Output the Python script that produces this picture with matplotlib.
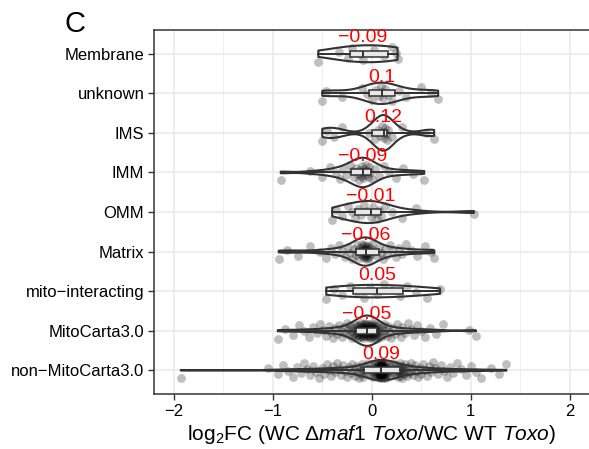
import numpy as np
import matplotlib
matplotlib.use("Agg")
import matplotlib.pyplot as plt

plt.rcParams['font.family'] = ['Liberation Sans', 'DejaVu Sans']
plt.rcParams['mathtext.fontset'] = 'custom'
plt.rcParams['mathtext.rm'] = 'Liberation Sans'
plt.rcParams['mathtext.it'] = 'Liberation Sans:italic'

# categories, bottom to top
categories = ['non\u2212MitoCarta3.0', 'MitoCarta3.0', 'mito\u2212interacting', 'Matrix',
              'OMM', 'IMM', 'IMS', 'unknown', 'Membrane']
med_labels = ['0.09', '\u22120.05', '0.05', '\u22120.06', '\u22120.01', '\u22120.09',
              '0.12', '0.1', '\u22120.09']

# log2FC values per group
membrane = [-0.54, -0.33, -0.24, -0.2, -0.12, -0.09, 0.02, 0.12, 0.2, 0.24, 0.26]
unknown = [-0.5, -0.46, -0.3, -0.1, -0.05, 0.0, 0.04, 0.07, 0.09, 0.1, 0.11, 0.13,
           0.16, 0.2, 0.27, 0.35, 0.5, 0.6, 0.67]
ims = [-0.5, -0.45, -0.38, -0.3, -0.03, 0.03, 0.06, 0.08, 0.1, 0.12, 0.12, 0.13,
       0.14, 0.15, 0.16, 0.2, 0.3, 0.55, 0.63]
imm = [-0.92, -0.62, -0.5, -0.42, -0.36, -0.32, -0.29, -0.26, -0.22, -0.2, -0.18,
       -0.16, -0.14, -0.13, -0.12, -0.11, -0.1, -0.09, -0.09, -0.08, -0.07, -0.06,
       -0.05, -0.04, -0.03, -0.02, 0.0, 0.03, 0.07, 0.12, 0.17, 0.24, 0.32, 0.42, 0.53]
omm = [-0.4, -0.36, -0.3, -0.24, -0.2, -0.17, -0.14, -0.11, -0.08, -0.05, -0.01, 0.01,
       0.03, 0.05, 0.07, 0.09, 0.13, 0.2, 0.3, 0.45, 1.03]
matrix = [-0.94, -0.86, -0.75, -0.62, -0.52, -0.46, -0.41, -0.37, -0.33, -0.3,
          -0.27, -0.24, -0.22, -0.2, -0.18,
          -0.16, -0.15, -0.14, -0.13, -0.12, -0.11, -0.1, -0.095, -0.09, -0.085,
          -0.08, -0.075, -0.07, -0.068, -0.065, -0.06, -0.057, -0.054, -0.05, -0.047,
          -0.044, -0.04, -0.035, -0.03, -0.025, -0.02, -0.01, 0.0, 0.02, 0.05,
          0.07, 0.09, 0.11, 0.13, 0.15, 0.18, 0.21, 0.24, 0.27, 0.31, 0.35, 0.4,
          0.46, 0.54, 0.6, 0.63]
mito_int = [-0.46, -0.38, -0.3, -0.22, -0.15, -0.08, -0.02, 0.05, 0.12, 0.2, 0.28,
            0.36, 0.45, 0.56, 0.69]
mitocarta = [-0.95, -0.88, -0.8, -0.74, -0.68, -0.63, -0.59, -0.55, -0.52, -0.49,
             -0.46, -0.43, -0.41, -0.39, -0.37, -0.35, -0.33, -0.31, -0.3, -0.28,
             -0.27, -0.25, -0.24, -0.23, -0.22, -0.21, -0.2, -0.19, -0.18, -0.17,
             -0.16, -0.16, -0.15, -0.15, -0.14, -0.14, -0.14, -0.13, -0.13, -0.12,
             -0.12, -0.12, -0.11, -0.11, -0.1, -0.1, -0.1, -0.09, -0.09, -0.09,
             -0.08, -0.08, -0.08, -0.07, -0.07, -0.07, -0.06, -0.06, -0.06, -0.05,
             -0.05,
             -0.05, -0.04, -0.04, -0.04, -0.03, -0.03, -0.03, -0.02, -0.02, -0.02,
             -0.01, -0.01, -0.01, 0.0, 0.0, 0.0, 0.01, 0.01, 0.01, 0.02,
             0.02, 0.02, 0.03, 0.03, 0.03, 0.04, 0.04, 0.04, 0.05, 0.05,
             0.06, 0.07, 0.08, 0.09, 0.1, 0.11, 0.12, 0.13, 0.15, 0.16,
             0.18, 0.19, 0.21, 0.23, 0.25, 0.27, 0.29, 0.31, 0.34, 0.37,
             0.4, 0.43, 0.46, 0.5, 0.54, 0.59, 0.65, 0.72, 0.98, 1.05]
non_mitocarta = [-1.93, -1.05, -0.95, -0.9, -0.85, -0.8, -0.76, -0.72, -0.68, -0.65,
                 -0.62, -0.59, -0.56, -0.53, -0.5, -0.48, -0.45, -0.43, -0.41, -0.39,
                 -0.37, -0.35, -0.33, -0.31, -0.29, -0.27, -0.25, -0.23, -0.21, -0.2,
                 -0.18, -0.17, -0.15, -0.14, -0.13, -0.12, -0.11, -0.1, -0.09, -0.09,
                 -0.08, -0.06, -0.04, -0.03, -0.02, -0.01, 0.0, 0.01, 0.02, 0.03,
                 0.03, 0.04, 0.04, 0.05, 0.05, 0.05, 0.06, 0.06, 0.06, 0.06,
                 0.07, 0.07, 0.07, 0.07, 0.07, 0.08, 0.08, 0.08, 0.08, 0.08,
                 0.08, 0.09, 0.09, 0.09, 0.09, 0.09, 0.09, 0.09, 0.09, 0.09,
                 0.09,
                 0.09, 0.09, 0.1, 0.1, 0.1, 0.1, 0.1, 0.1, 0.11, 0.11,
                 0.11, 0.11, 0.11, 0.12, 0.12, 0.12, 0.12, 0.13, 0.13, 0.13,
                 0.14, 0.14, 0.15, 0.15, 0.16, 0.17, 0.18, 0.19, 0.2, 0.21,
                 0.22, 0.23, 0.24, 0.25, 0.26, 0.27, 0.28, 0.28, 0.28, 0.28,
                 0.29, 0.3, 0.31, 0.32, 0.33, 0.34, 0.35, 0.36, 0.37, 0.38,
                 0.4, 0.41, 0.42, 0.44, 0.45, 0.47, 0.49, 0.5, 0.52, 0.54,
                 0.56, 0.58, 0.6, 0.62, 0.64, 0.67, 0.7, 0.73, 0.76, 0.79,
                 0.82, 0.86, 0.9, 0.95, 1.0, 1.05, 1.1, 1.2, 1.28, 1.36]

groups = [non_mitocarta, mitocarta, mito_int, matrix, omm, imm, ims, unknown, membrane]


def kde(vals, grid, adjust=1.5):
    v = np.asarray(vals)
    n = len(v)
    iqr = np.subtract(*np.percentile(v, [75, 25]))
    bw = adjust * 0.9 * min(v.std(ddof=1), iqr / 1.34) * n ** -0.2
    d = np.exp(-0.5 * ((grid[:, None] - v[None, :]) / bw) ** 2).sum(axis=1)
    return d / (n * bw * np.sqrt(2 * np.pi))


fig = plt.figure(figsize=(5.89, 4.49), dpi=100)
ax = fig.add_axes([154 / 589, 55 / 449, 435.6 / 589, 364 / 449])

# densities first, so all violins share one scale (area)
grids, dens = [], []
for vals in groups:
    g = np.linspace(min(vals), max(vals), 256)
    grids.append(g)
    dens.append(kde(vals, g))
dmax = max(d.max() for d in dens)

for i, vals in enumerate(groups):
    pos = i + 1
    v = np.asarray(vals)
    # jittered points
    jit = ((np.arange(len(v)) * 0.618034) % 1 - 0.5) * 0.4
    ax.scatter(v, pos + jit, s=40, color='black', alpha=0.25, lw=0, zorder=2)
    # violin
    w = dens[i] / dmax * 0.45
    ax.fill_between(grids[i], pos - w, pos + w, facecolor='none',
                    edgecolor='#333333', lw=1.5, zorder=3)
    # full-range line
    ax.plot([v.min(), v.max()], [pos, pos], color='#333333', lw=1.4, zorder=4)
    # box
    ax.boxplot([v], positions=[pos], vert=False, widths=0.15, whis=(0, 100),
               showfliers=False, showcaps=False, patch_artist=True,
               boxprops=dict(facecolor='#e8e8e8', edgecolor='#333333', lw=1.1),
               medianprops=dict(color='#333333', lw=1.4),
               whiskerprops=dict(color='#333333', lw=1.4), zorder=5)
    ax.text(np.median(v), pos + 0.4, med_labels[i], color='red', fontsize=14,
            ha='center', va='center', zorder=6)

ax.set_xlim(-2.2, 2.2)
ax.set_ylim(0.4, 9.6)
ax.set_yticks(range(1, 10))
ax.set_yticklabels(categories, fontsize=12, color='black')
ax.set_xticks([-2, -1, 0, 1, 2])
ax.set_xticklabels(['\u22122', '\u22121', '0', '1', '2'], fontsize=12, color='black')
ax.set_xticks([-1.5, -0.5, 0.5, 1.5], minor=True)
ax.tick_params(which='major', length=4, width=1, color='#333333', pad=3)
ax.tick_params(which='minor', length=0)
ax.grid(which='major', color='#ebebeb', lw=1.2, zorder=0)
ax.grid(which='minor', axis='x', color='#ebebeb', lw=0.6, zorder=0)
ax.set_axisbelow(True)
for sp in ax.spines.values():
    sp.set_color('#333333')
    sp.set_linewidth(1.1)

ax.set_xlabel(r'log$_2$FC (WC Δ$\mathit{maf1}$ $\mathit{Toxo}$/WC WT $\mathit{Toxo}$)',
              fontsize=15, labelpad=3)
fig.text(64 / 589, 1 - 10 / 449, 'C', fontsize=21, ha='left', va='top')

fig.savefig('out.png', dpi=100)
